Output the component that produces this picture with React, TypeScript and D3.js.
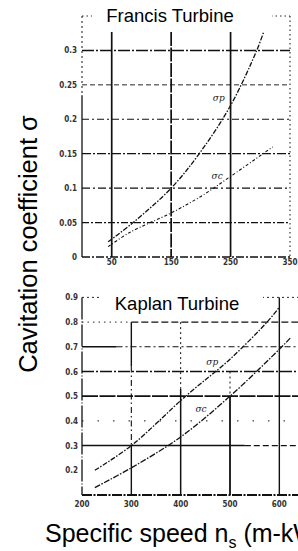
import React from "react";
import * as d3 from "d3";

const francisTicksX = [50, 150, 250, 350];
const francisTickLabelsX = ["50", "150", "250", "350"];
const francisTicksY = [0, 0.05, 0.1, 0.15, 0.2, 0.25, 0.3];
const francisTickLabelsY = ["0", "0.05", "0.1", "0.15", "0.2", "0.25", "0.3"];
const francisNp = [44, 86, 150, 198, 250, 294, 307];
const francisSigmaP = [0.022, 0.05, 0.1, 0.151, 0.22, 0.3, 0.33];
const francisNc = [44, 81, 150, 200, 250, 321];
const francisSigmaC = [0.015, 0.036, 0.064, 0.088, 0.117, 0.16];

const kaplanTicksX = [200, 300, 400, 500, 600];
const kaplanTickLabelsX = ["200", "300", "400", "500", "600"];
const kaplanTicksY = [0.2, 0.3, 0.4, 0.5, 0.6, 0.7, 0.8, 0.9];
const kaplanTickLabelsY = ["0.2", "0.3", "0.4", "0.5", "0.6", "0.7", "0.8", "0.9"];
const kaplanNp = [226, 300, 410, 500, 575, 600];
const kaplanSigmaP = [0.2, 0.3, 0.5, 0.65, 0.8, 0.86];
const kaplanNc = [226, 300, 400, 500, 600, 622];
const kaplanSigmaC = [0.13, 0.21, 0.335, 0.5, 0.69, 0.735];

const INK = "#111";
const TICKFONT = "'DejaVu Sans Condensed', 'DejaVu Sans', sans-serif";
const MAINFONT = "Arial, 'Liberation Sans', sans-serif";

export default function App() {
  const fx = d3.scaleLinear().domain([0, 350]).range([82, 290]);
  const fy = d3.scaleLinear().domain([0, 0.35]).range([257, 16]);
  const kx = d3.scaleLinear().domain([200, 650]).range([82, 304]);
  const ky = d3.scaleLinear().domain([0.1, 0.9]).range([495, 297.4]);

  const lineF = d3
    .line<[number, number]>()
    .x((d) => fx(d[0]))
    .y((d) => fy(d[1]))
    .curve(d3.curveCatmullRom);
  const lineK = d3
    .line<[number, number]>()
    .x((d) => kx(d[0]))
    .y((d) => ky(d[1]))
    .curve(d3.curveCatmullRom);

  const fP = francisNp.map((n, i) => [n, francisSigmaP[i]] as [number, number]);
  const fC = francisNc.map((n, i) => [n, francisSigmaC[i]] as [number, number]);
  const kP = kaplanNp.map((n, i) => [n, kaplanSigmaP[i]] as [number, number]);
  const kC = kaplanNc.map((n, i) => [n, kaplanSigmaC[i]] as [number, number]);

  const fHStyles: Record<string, { w: number; dash: string }> = {
    "0.05": { w: 1.2, dash: "7,2,2,2" },
    "0.1": { w: 1.1, dash: "8,3,2,3" },
    "0.15": { w: 1.2, dash: "9,2,2,2" },
    "0.2": { w: 1.1, dash: "7,3,2,3" },
    "0.25": { w: 0.9, dash: "5,3" },
    "0.3": { w: 1.6, dash: "12,2,2,2" },
  };

  return (
    <svg
      width={298}
      height={551}
      style={{ position: "absolute", left: 0, top: 0, background: "#fff" }}
    >
      <rect x={0} y={0} width={298} height={551} fill="#fff" />

      {/* ===== Francis panel ===== */}
      <g>
        {francisTicksY
          .filter((t) => t > 0)
          .map((t) => {
            const st = fHStyles[String(t)];
            return (
              <line
                key={"fh" + t}
                x1={fx(0)}
                x2={fx(350)}
                y1={fy(t)}
                y2={fy(t)}
                stroke={INK}
                strokeWidth={st.w}
                strokeDasharray={st.dash}
              />
            );
          })}
        {francisTicksX.map((t) => (
          <line
            key={"fv" + t}
            x1={fx(t)}
            x2={fx(t)}
            y1={t === 350 ? fy(0.35) : fy(0.35) + 16}
            y2={fy(0)}
            stroke={INK}
            strokeWidth={t === 350 ? 1 : 1.7}
            strokeDasharray={t === 350 ? "1.5,3" : t === 150 ? "14,1.5" : undefined}
          />
        ))}
        <line x1={fx(0)} x2={fx(0)} y1={fy(0.35)} y2={fy(0.235)} stroke={INK} strokeWidth={1} strokeDasharray="2,3" />
        <line x1={fx(0)} x2={fx(0)} y1={fy(0.235)} y2={fy(0)} stroke={INK} strokeWidth={1.3} />
        <line x1={fx(0)} x2={fx(350)} y1={fy(0)} y2={fy(0)} stroke={INK} strokeWidth={1.4} strokeDasharray="8,2,2,2" />
        <line x1={fx(0)} x2={fx(350)} y1={fy(0.35)} y2={fy(0.35)} stroke={INK} strokeWidth={0.9} strokeDasharray="1.5,3" />

        <path d={lineF(fP) || ""} fill="none" stroke={INK} strokeWidth={1.3} strokeDasharray="5,1.5,1.5,1.5" />
        <path d={lineF(fC) || ""} fill="none" stroke={INK} strokeWidth={1.1} strokeDasharray="3,2,1,2" />

        <text x={fx(220)} y={fy(0.226)} fontFamily="'DejaVu Serif', serif" fontSize={9} fontStyle="italic" fill="#222">
          σp
        </text>
        <text x={fx(218)} y={fy(0.113)} fontFamily="'DejaVu Serif', serif" fontSize={9} fontStyle="italic" fill="#222">
          σc
        </text>

        {francisTicksY.map((t, i) => (
          <text
            key={"fyl" + t}
            x={77}
            y={fy(t) + 3}
            textAnchor="end"
            fontFamily={TICKFONT}
            fontSize={8}
            fontWeight="bold"
            fill="#333"
          >
            {francisTickLabelsY[i]}
          </text>
        ))}
        {francisTicksX.map((t, i) => (
          <text
            key={"fxl" + t}
            x={fx(t)}
            y={265}
            textAnchor="middle"
            fontFamily={TICKFONT}
            fontSize={8}
            fontWeight="bold"
            fill="#333"
          >
            {francisTickLabelsX[i]}
          </text>
        ))}

        <rect x={92} y={0} width={180} height={32} fill="#fff" />
        <text x={170} y={22} textAnchor="middle" fontFamily={MAINFONT} fontSize={18.5} fill="#000">
          Francis Turbine
        </text>
      </g>

      {/* ===== Kaplan panel ===== */}
      <g>
        <line x1={kx(200)} x2={kx(300)} y1={ky(0.8)} y2={ky(0.8)} stroke={INK} strokeWidth={0.9} strokeDasharray="1.5,4" />
        <line x1={kx(300)} x2={304} y1={ky(0.8)} y2={ky(0.8)} stroke={INK} strokeWidth={1.2} strokeDasharray="7,3" />
        <line x1={kx(200)} x2={kx(270)} y1={ky(0.7)} y2={ky(0.7)} stroke={INK} strokeWidth={1.5} />
        <line x1={kx(270)} x2={304} y1={ky(0.7)} y2={ky(0.7)} stroke={INK} strokeWidth={1.1} strokeDasharray="6,3,2,3" />
        <line x1={kx(200)} x2={304} y1={ky(0.6)} y2={ky(0.6)} stroke={INK} strokeWidth={1.3} strokeDasharray="12,2,2,2" />
        <line x1={kx(200)} x2={304} y1={ky(0.5)} y2={ky(0.5)} stroke={INK} strokeWidth={1.7} strokeDasharray="16,1.5" />
        <line x1={kx(200)} x2={304} y1={ky(0.4)} y2={ky(0.4)} stroke={INK} strokeWidth={1} strokeDasharray="1.5,14" />
        <line x1={kx(200)} x2={kx(530)} y1={ky(0.3)} y2={ky(0.3)} stroke={INK} strokeWidth={1.5} />
        <line x1={kx(530)} x2={304} y1={ky(0.3)} y2={ky(0.3)} stroke={INK} strokeWidth={1.1} strokeDasharray="6,3" />

        <line x1={kx(300)} x2={kx(300)} y1={ky(0.8)} y2={ky(0.62)} stroke={INK} strokeWidth={1.4} />
        <line x1={kx(300)} x2={kx(300)} y1={ky(0.62)} y2={ky(0.3)} stroke={INK} strokeWidth={1.1} strokeDasharray="6,3,1.5,3" />
        <line x1={kx(300)} x2={kx(300)} y1={ky(0.3)} y2={ky(0.1)} stroke={INK} strokeWidth={1.4} />
        <line x1={kx(400)} x2={kx(400)} y1={ky(0.8)} y2={ky(0.53)} stroke={INK} strokeWidth={1} strokeDasharray="2,3" />
        <line x1={kx(400)} x2={kx(400)} y1={ky(0.53)} y2={ky(0.1)} stroke={INK} strokeWidth={1.5} />
        <line x1={kx(500)} x2={kx(500)} y1={ky(0.6)} y2={ky(0.5)} stroke={INK} strokeWidth={1} strokeDasharray="2,3" />
        <line x1={kx(500)} x2={kx(500)} y1={ky(0.5)} y2={ky(0.1)} stroke={INK} strokeWidth={1.8} />
        <line x1={kx(600)} x2={kx(600)} y1={ky(0.9)} y2={ky(0.1)} stroke={INK} strokeWidth={1.4} />

        <line x1={kx(200)} x2={kx(200)} y1={ky(0.9)} y2={ky(0.1)} stroke={INK} strokeWidth={1.3} strokeDasharray="22,2,1,2" />
        <line x1={kx(200)} x2={304} y1={ky(0.1)} y2={ky(0.1)} stroke={INK} strokeWidth={2} strokeDasharray="10,1.5,2,1.5" />
        <line x1={kx(200)} x2={304} y1={ky(0.9)} y2={ky(0.9)} stroke={INK} strokeWidth={0.9} strokeDasharray="2,3" />

        <path d={lineK(kP) || ""} fill="none" stroke={INK} strokeWidth={1.3} strokeDasharray="5,1.5,1.5,1.5" />
        <path d={lineK(kC) || ""} fill="none" stroke={INK} strokeWidth={1.3} strokeDasharray="6,1.5,1.5,1.5" />

        <text x={kx(452)} y={ky(0.625)} fontFamily="'DejaVu Serif', serif" fontSize={9} fontStyle="italic" fill="#222">
          σp
        </text>
        <text x={kx(430)} y={ky(0.435)} fontFamily="'DejaVu Serif', serif" fontSize={9} fontStyle="italic" fill="#222">
          σc
        </text>

        {kaplanTicksY.map((t, i) => (
          <text
            key={"kyl" + t}
            x={78}
            y={ky(t) + 3}
            textAnchor="end"
            fontFamily={TICKFONT}
            fontSize={8}
            fontWeight="bold"
            fill="#333"
          >
            {kaplanTickLabelsY[i]}
          </text>
        ))}
        {kaplanTicksX.map((t, i) => (
          <text
            key={"kxl" + t}
            x={kx(t)}
            y={507}
            textAnchor="middle"
            fontFamily={TICKFONT}
            fontSize={8}
            fontWeight="bold"
            fill="#333"
          >
            {kaplanTickLabelsX[i]}
          </text>
        ))}

        <rect x={100} y={288} width={163} height={32} fill="#fff" />
        <text x={177} y={310} textAnchor="middle" fontFamily={MAINFONT} fontSize={18.5} fill="#000">
          Kaplan Turbine
        </text>
      </g>

      <text
        transform="translate(37,244) rotate(-90)"
        textAnchor="middle"
        fontFamily={MAINFONT}
        fontSize={25.5}
        fill="#000"
      >
        Cavitation coefficient σ
      </text>
      <text x={45} y={542} fontFamily={MAINFONT} fontSize={25} fill="#000">
        Specific speed n
        <tspan fontSize={16} dy={6}>
          s
        </tspan>
        <tspan dy={-6}> (m-kW)</tspan>
      </text>
    </svg>
  );
}
